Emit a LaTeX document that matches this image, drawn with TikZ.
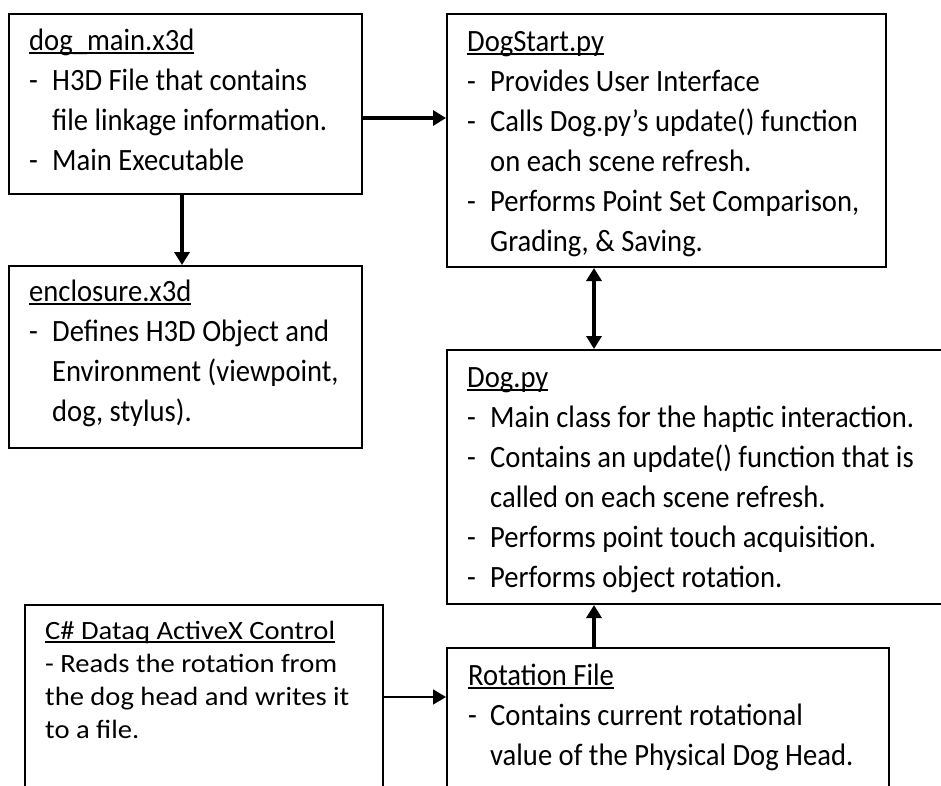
\documentclass[tikz,border=0pt]{standalone}
\usepackage{fontspec}
\setmainfont{Carlito}
\newfontfamily\bodyfont[FakeStretch=0.923]{Carlito}
\newfontfamily\condfont[FakeStretch=1.083]{Carlito}
\usetikzlibrary{arrows.meta,calc}
\newcommand\myul[1]{\leavevmode\setbox0\hbox{#1}\rlap{\rule[-3.6pt]{\wd0}{1.7pt}}\box0}
\newcommand\dl[1]{\makebox[23pt][l]{-}#1}
\newcommand\cl[1]{\hspace*{23pt}#1}
\tikzset{
  box/.style={draw=black, line width=2pt, fill=none, inner sep=0pt, anchor=north west},
  txt/.style={inner sep=0pt, anchor=base west},
  thick arrow/.style={line width=4.5pt, -{Triangle[length=13pt,width=15pt]}},
  thin arrow/.style={line width=1.6pt, -{Triangle[length=13pt,width=15pt]}},
  both arrow/.style={line width=4.5pt, {Triangle[length=13pt,width=15pt]}-{Triangle[length=13pt,width=15pt]}},
}
\newcommand\bodytext[2]{\parbox[t]{#1}{\bodyfont\fontsize{31}{40}\selectfont\raggedright #2}}
\begin{document}
\begin{tikzpicture}[x=1pt,y=-1pt]
\useasboundingbox (0,0) rectangle (941,785);
\clip (0,0) rectangle (941,785);
\fill[white] (0,0) rectangle (941,785);
% boxes
\node[box, minimum width=353pt, minimum height=180pt] (main) at (8,13) {};
\node[box, minimum width=439pt, minimum height=253pt] (ds) at (446,13) {};
\node[box, minimum width=353pt, minimum height=182pt] (enc) at (8,265) {};
\node[box, minimum width=520pt, minimum height=254pt] (dog) at (446,349) {};
\node[box, minimum width=358pt, minimum height=210pt] (cs) at (24,604) {};
\node[box, minimum width=442pt, minimum height=170pt] (rot) at (446,647) {};
% texts
\node[txt] (mainT) at (29,50) {\bodytext{330pt}{\myul{dog\_main.x3d}\\
\dl{H3D File that contains}\\
\cl{file linkage information.}\\
\dl{Main Executable}}};
\node[txt] (dsT) at (467,51) {\bodytext{420pt}{\myul{DogStart.py}\\
\dl{Provides User Interface}\\
\dl{Calls Dog.py’s update() function}\\
\cl{on each scene refresh.}\\
\dl{Performs Point Set Comparison,}\\
\cl{Grading, \& Saving.}}};
\node[txt] (encT) at (29,301) {\bodytext{330pt}{\myul{enclosure.x3d}\\
\dl{Defines H3D Object and}\\
\cl{Environment (viewpoint,}\\
\cl{dog, stylus).}}};
\node[txt] (dogT) at (467,387) {\bodytext{470pt}{\myul{Dog.py}\\
\dl{Main class for the haptic interaction.}\\
\dl{Contains an update() function that is}\\
\cl{called on each scene refresh.}\\
\dl{Performs point touch acquisition.}\\
\dl{Performs object rotation.}}};
\node[txt] (rotT) at (468,685) {\bodytext{420pt}{\myul{Rotation File}\\
\makebox[22pt][l]{-}Contains current rotational\\
\hspace*{22pt}value of the Physical Dog Head.}};
\node[txt] (csT) at (45,639) {\parbox[t]{330pt}{\condfont\fontsize{26.4}{33}\selectfont\raggedright \myul{C\# Dataq ActiveX Control}\\
- Reads the rotation from\\
the dog head and writes it\\
to a file.}};
% connectors
\draw[thick arrow] ([yshift=-105pt]main.north east) -- ([yshift=-105pt]main.north east -| ds.west);
\draw[thick arrow] ([xshift=174pt]main.south west) -- ([xshift=174pt]enc.north west);
\draw[both arrow] ([xshift=148pt]ds.south west) -- ([xshift=148pt]dog.north west);
\draw[thick arrow] ([xshift=148pt]rot.north west) -- ([xshift=148pt]dog.south west);
\draw[thin arrow] ([yshift=-93pt]cs.north east) -- ([yshift=-93pt]cs.north east -| rot.west);
\end{tikzpicture}
\end{document}
